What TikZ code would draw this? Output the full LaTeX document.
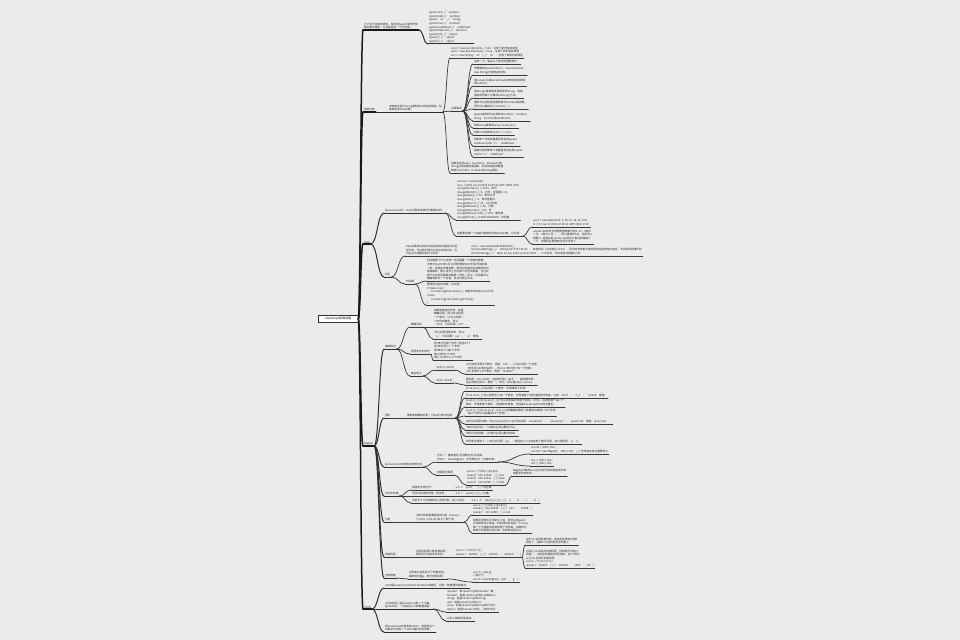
\documentclass[tikz,border=0pt]{standalone}
\usepackage{fontspec}
\setmainfont{Noto Sans CJK SC}
\usetikzlibrary{calc}
\newcommand\bsl{\textbackslash}
\newcommand\crt{\textasciicircum}
\newcommand\tld{\textasciitilde}
% topic text with its underline
\newcommand\tn[4][l3]{\node[tx] (#2) at (#3) {#4};\draw[#1] (#2.south west) -- (#2.south east);}
% curved branch from a parent anchor to the left end of a child's underline
\newcommand\lk[3][l3]{\draw[#1] let \p1=(#2), \p2=(#3.south west), \n1={0.5*(\x1+\x2)} in
  (\p1) .. controls ({\n1*1pt},\y1) and ({\n1*1pt},\y2) .. (\p2);}
\begin{document}
\begin{tikzpicture}[x=1bp,y=-1bp,
  tx/.style={anchor=south west, align=left, inner xsep=0.8pt, inner ysep=0.7pt,
    font=\fontsize{2.7}{3.6}\selectfont, text=black!85},
  l1/.style={line width=1.5pt, draw=black!90, line cap=round},
  l2/.style={line width=1.0pt, draw=black!82, line cap=round},
  l3/.style={line width=0.7pt, draw=black!78, line cap=round}]
\fill[black!8] (0,0) rectangle (960,640);
\useasboundingbox (0,0) rectangle (960,640);

\node[draw=black!80, line width=0.6pt, fill=white, minimum width=40pt, minimum height=7.5pt,
  inner sep=0.5pt, font=\fontsize{3}{3.6}\selectfont] (root) at (338,319) {JavaScript标准对象};

% ---------- typeof
\tn[l1]{A}{363,30}{为了区分对象的类型，我们用typeof操作符获\\取对象的类型，它总是返回一个字符串：}
\tn[l2]{A1}{428,44}{typeof 123; // 'number'\\typeof NaN; // 'number'\\typeof 'str'; // 'string'\\typeof true; // 'boolean'\\typeof undefined; // 'undefined'\\typeof Math.abs; // 'function'\\typeof null; // 'object'\\typeof []; // 'object'\\typeof \{\}; // 'object'}

% ---------- wrapper objects
\tn[l1]{B}{363,112}{包装对象}
\tn[l2]{B1}{388,112}{字符串也区分string类型和它的包装类型。包\\装类型用new创建：}
\tn{B1a}{450,58}{var n = new Number(123); // 123，生成了新的包装类型\\var b = new Boolean(true); // true，生成了新的包装类型\\var s = new String('str'); // 'str'，生成了新的包装类型}
\tn{B1b}{450,111}{注意事项}
\tn{Bn1}{473,64}{总结一下，有这么几条规则需要遵守：}
\tn{Bn2}{473,75}{不要使用new Number()、new Boolean()、\\new String()创建包装对象；}
\tn{Bn3}{473,86}{用parseInt()或parseFloat()来转换任意类型\\到number；}
\tn{Bn4}{473,98}{用String()来转换任意类型到string，或者\\直接调用某个对象的toString()方法；}
\tn{Bn5}{473,109}{通常不必把任意类型转换为boolean再判断，\\因为可以直接写if (myVar) \{...\}；}
\tn{Bn6}{473,121}{typeof操作符可以判断出number、boolean、\\string、function和undefined；}
\tn{Bn7}{473,128}{判断Array要使用Array.isArray(arr)；}
\tn{Bn8}{473,135}{判断null请使用myVar === null；}
\tn{Bn9}{473,146}{判断某个全局变量是否存在用typeof\\window.myVar === 'undefined'；}
\tn{Bn10}{473,157}{函数内部判断某个变量是否存在用typeof\\myVar === 'undefined'。}
\tn{B1c}{450,173}{如果没有写new，Number()、Boolean()和\\String()被当做普通函数，把任何类型的数据\\转换为number、boolean和string类型。}

% ---------- Date
\tn[l1]{C}{363,244}{Date}
\tn[l2]{C1}{384,213}{在JavaScript中，Date对象用来表示日期和时间。}
\tn{C1a}{456,220}{var now = new Date();\\now; // Wed Jun 24 2015 19:49:22 GMT+0800 (CST)\\now.getFullYear(); // 2015，年份\\now.getMonth(); // 5，月份，范围是0\tld 11\\now.getDate(); // 24，表示24号\\now.getDay(); // 3，表示星期三\\now.getHours(); // 19，24小时制\\now.getMinutes(); // 49，分钟\\now.getSeconds(); // 22，秒\\now.getMilliseconds(); // 875，毫秒数\\now.getTime(); // 1435146562875，时间戳}
\tn{C1b}{456,236}{如果要创建一个指定日期和时间的Date对象，可以用：}
\tn{C1b1}{532,227}{var d = new Date(2015, 5, 19, 20, 15, 30, 123);\\d; // Fri Jun 19 2015 20:15:30 GMT+0800 (CST)}
\tn{C1b2}{532,244}{JavaScript的月份范围用整数表示是0\tld 11，0表示\\一月，1表示二月……，所以要表示6月，我们传入\\的是5！这绝对是JavaScript的设计者当时脑抽了\\一下，但是现在要修复已经不可能了。}
\tn[l2]{C2}{384,277}{时区}
\tn{C2a}{405,256}{Date对象表示的时间总是按浏览器所在时区\\显示的，不过我们既可以显示本地时间，也\\可以显示调整后的UTC时间：}
\tn{C2a1}{470,256}{var d = new Date(1435146562875);\\d.toLocaleString(); // '2015/6/24 下午7:49:22'，本地时间（北京时区+8:00），显示的字符串与操作系统设定的格式有关，不同系统结果不同\\d.toUTCString(); // 'Wed, 24 Jun 2015 11:49:22 GMT'，UTC时间，与本地时间相差8小时}
\tn{C2b}{405,284}{时间戳}
\tn{C2b1}{426,281}{时间戳是个什么东西？时间戳是一个自增的整数，\\它表示从1970年1月1日零时整的GMT时区开始的那\\一刻，到现在的毫秒数。假设浏览器所在电脑的时间\\是准确的，那么世界上无论哪个时区的电脑，它们此\\刻产生的时间戳数字都是一样的，所以，时间戳可以\\精确地表示一个时刻，并且与时区无关。}
\tn{C2b2}{426,305}{要获取当前时间戳，可以用：\\if (Date.now) \{\\\hspace*{4pt}console.log(Date.now()); // 老版本IE没有now()方法\\\} else \{\\\hspace*{4pt}console.log(new Date().getTime());\\\}}

% ---------- RegExp
\tn[l1]{D}{363,446}{RegExp}
\tn[l2]{D1}{384,349}{基础知识}
\tn{D1a}{410,327}{精确匹配}
\tn{D1a1}{433,327}{如果直接给出字符，就是\\精确匹配。用\bsl d可以匹配\\一个数字，\bsl w可以匹配一\\个字母或数字，所以\\'00\bsl d'可以匹配'007'。}
\tn{D1a2}{433,339}{.可以匹配任意字符，所以：\\'js.'可以匹配'jsp'、'js!'等等。}
\tn{D1b}{410,354}{匹配变长的字符}
\tn{D1b1}{433,360}{用*表示任意个字符（包括0个）\\用+表示至少一个字符\\用?表示0个或1个字符\\用\{n\}表示n个字符\\用\{n,m\}表示n-m个字符}
\tn{D1c}{410,376}{复杂例子}
\tn{D1c1}{435,370}{\bsl d\{3\}\bsl s+\bsl d\{3,8\}}
\tn{D1c1a}{465,374}{\bsl d\{3\}表示匹配3个数字，例如'010'；\bsl s可以匹配一个空格\\（也包括Tab等空白符），所以\bsl s+表示至少有一个空格；\\\bsl d\{3,8\}表示3-8个数字，例如'1234567'。}
\tn{D1c2}{435,383}{\bsl d\{3\}\bsl -\bsl d\{3,8\}}
\tn{D1c2a}{465,385}{要匹配'010-12345'这样的号码，由于'-'是特殊字符，\\在正则表达式中，要用'\bsl'转义，所以是\bsl d\{3\}\bsl -\bsl d\{3,8\}。}

\tn[l2]{D2}{384,418}{进阶}
\tn{D2a}{406,418}{要做更精确地匹配，可以用[]表示范围：}
\tn{D2c1}{465,391}{[0-9a-zA-Z\bsl\_]可以匹配一个数字、字母或者下划线；}
\tn{D2c2}{465,398}{[0-9a-zA-Z\bsl\_]+可以匹配至少由一个数字、字母或者下划线组成的字符串，比如'a100'，'0\_Z'，'js2015'等等；}
\tn{D2c3}{465,407}{[a-zA-Z\bsl\_\bsl\$][0-9a-zA-Z\bsl\_\bsl\$]*可以匹配由字母或下划线、\$开头，后接任意个由一个\\数字、字母或者下划线、\$组成的字符串，也就是JavaScript允许的变量名；}
\tn{D2c4}{465,416}{[a-zA-Z\bsl\_\bsl\$][0-9a-zA-Z\bsl\_\bsl\$]\{0, 19\}更精确地限制了变量的长度是1-20个字符\\（前1个字符+后面最多19个字符）。}
\tn{D2c5}{465,424}{A|B可以匹配A或B，所以(J|j)ava(S|s)cript可以匹配'JavaScript'、'Javascript'、'javaScript'或者'javascript'。}
\tn{D2c6}{465,430}{\crt 表示行的开头，\crt\bsl d表示必须以数字开头。}
\tn{D2c7}{465,436}{\$表示行的结束，\bsl d\$表示必须以数字结束。}
\tn{D2c8}{465,444}{你可能注意到了，js也可以匹配'jsp'，但是加上\crt js\$就变成了整行匹配，就只能匹配'js'了。}

\tn[l2]{D3}{384,467}{在JavaScript中使用正则表达式}
\tn{D3a}{436,462}{方式一：直接通过/正则表达式/写出来；\\方式二：new RegExp('正则表达式')创建对象。}
\tn{D3a1}{530,454}{var re1 = /ABC\bsl -001/;\\var re2 = new RegExp('ABC\bsl\bsl -001'); // 字符串本身也需要转义}
\tn{D3a2}{530,466}{re1; // /ABC\bsl -001/\\re2; // /ABC\bsl -001/}
\tn{D3b}{436,475}{判断是否匹配}
\tn{D3b1}{466,485}{var re = /\crt\bsl d\{3\}\bsl -\bsl d\{3,8\}\$/;\\re.test('010-12345'); // true\\re.test('010-1234x'); // false\\re.test('010 12345'); // false}
\tn{D3b1a}{512,476}{RegExp对象的test()方法用于测试给定的字符\\串是否符合条件。}

\tn[l2]{D4}{384,496}{切分字符串}
\tn{D4a}{411,490}{用固定字符切分：}
\tn{D4a1}{452,490}{'a b\ \ \ c'.split(' '); // 含空串}
\tn{D4b}{411,496}{无法识别连续空格，用正则：}
\tn{D4b1}{452,496}{'a b\ \ \ c'.split(/\bsl s+/); // 正确}
\tn{D4c}{411,503}{无论多少个空格都可以正常分割。加入,试试：}
\tn{D4c1}{468,503}{'a,b, c\ \ d'.split(/[\bsl s\bsl ,]+/); // ['a', 'b', 'c', 'd']}

\tn[l2]{D5}{384,522}{分组}
\tn{D5a}{415,522}{()表示的就是要提取的分组（Group），\\\crt(\bsl d\{3\})-(\bsl d\{3,8\})\$定义了两个组}
\tn{D5a1}{472,515}{var re = /\crt(\bsl d\{3\})-(\bsl d\{3,8\})\$/;\\re.exec('010-12345'); // ['010', '12345']\\re.exec('010 12345'); // null}
\tn{D5a2}{472,533}{如果正则表达式中定义了组，就可以用exec()\\方法提取出子串来。匹配成功后返回一个Array，\\第一个元素是匹配到的整个字符串，后面的元\\素表示匹配成功的子串，失败时返回null。}

\tn[l2]{D6}{384,557}{贪婪匹配}
\tn{D6a}{415,557}{正则匹配默认是贪婪匹配，\\即匹配尽可能多的字符。}
\tn{D6a1}{455,557}{var re = /\crt(\bsl d+)(0*)\$/;\\re.exec('102300'); // ['102300', '102300', '']}
\tn{D6a1a}{525,545}{由于\bsl d+采用贪婪匹配，直接把后面的0全部\\匹配了，结果0*只能匹配空字符串了。}
\tn{D6a1b}{525,568}{必须让\bsl d+采用非贪婪匹配（也就是尽可能少\\匹配），才能把后面的0匹配出来，加个?就可\\以让\bsl d+采用非贪婪匹配：\\var re = /\crt(\bsl d+?)(0*)\$/;\\re.exec('102300'); // ['102300', '1023', '00']}

\tn[l2]{D7}{384,578}{全局搜索}
\tn{D7a}{408,579}{正则表达式还有几个特殊标志，\\最常用的是g，表示全局匹配：}
\tn{D7a1}{472,582}{var r1 = /test/g;\\// 等价于:\\var r2 = new RegExp('test', 'g');}

% ---------- JSON
\tn[l1]{E}{363,609}{JSON}
\tn[l2]{E1}{384,588}{JSON是JavaScript Object Notation的缩写，它是一种数据交换格式。}
\tn[l2]{E2}{384,609}{JSON实际上是JavaScript的一个子集。\\在JSON中，一共就这么几种数据类型：}
\tn{E2a}{446,612}{number：和JavaScript的number一致；\\boolean：就是JavaScript的true或false；\\string：就是JavaScript的string；\\null：就是JavaScript的null；\\array：就是JavaScript的Array表示方式；\\object：就是JavaScript的\{ ... \}表示方式。}
\tn{E2b}{446,621}{以及上面的任意组合。}
\tn[l2]{E3}{384,632}{把JavaScript对象变成JSON，就是把这个\\对象序列化成一个JSON格式的字符串。}

% ---------- branches
\foreach \c in {A,B,C,D,E} {\lk[l1]{root.east}{\c}}
\lk[l2]{A.south east}{A1}
\lk[l2]{B.south east}{B1}
\foreach \c in {B1a,B1b,B1c} {\lk{B1.south east}{\c}}
\foreach \c in {Bn1,Bn2,Bn3,Bn4,Bn5,Bn6,Bn7,Bn8,Bn9,Bn10} {\lk{B1b.south east}{\c}}
\foreach \c in {C1,C2} {\lk[l2]{C.south east}{\c}}
\foreach \c in {C1a,C1b} {\lk{C1.south east}{\c}}
\foreach \c in {C1b1,C1b2} {\lk{C1b.south east}{\c}}
\lk{C2.south east}{C2a}
\lk{C2.south east}{C2b}
\lk{C2a.south east}{C2a1}
\foreach \c in {C2b1,C2b2} {\lk{C2b.south east}{\c}}
\foreach \c in {D1,D2,D3,D4,D5,D6,D7} {\lk[l2]{D.south east}{\c}}
\foreach \c in {D1a,D1b,D1c} {\lk{D1.south east}{\c}}
\foreach \c in {D1a1,D1a2} {\lk{D1a.south east}{\c}}
\lk{D1b.south east}{D1b1}
\foreach \c in {D1c1,D1c2} {\lk{D1c.south east}{\c}}
\lk{D1c1.south east}{D1c1a}
\lk{D1c2.south east}{D1c2a}
\lk{D2.south east}{D2a}
\foreach \c in {D2c1,D2c2,D2c3,D2c4,D2c5,D2c6,D2c7,D2c8} {\lk{D2a.south east}{\c}}
\foreach \c in {D3a,D3b} {\lk{D3.south east}{\c}}
\foreach \c in {D3a1,D3a2} {\lk{D3a.south east}{\c}}
\lk{D3b.south east}{D3b1}
\lk{D3b1.south east}{D3b1a}
\foreach \c in {D4a,D4b,D4c} {\lk{D4.south east}{\c}}
\lk{D4a.south east}{D4a1}
\lk{D4b.south east}{D4b1}
\lk{D4c.south east}{D4c1}
\lk{D5.south east}{D5a}
\foreach \c in {D5a1,D5a2} {\lk{D5a.south east}{\c}}
\lk{D6.south east}{D6a}
\lk{D6a.south east}{D6a1}
\foreach \c in {D6a1a,D6a1b} {\lk{D6a1.south east}{\c}}
\lk{D7.south east}{D7a}
\lk{D7a.south east}{D7a1}
\foreach \c in {E1,E2,E3} {\lk[l2]{E.south east}{\c}}
\foreach \c in {E2a,E2b} {\lk{E2.south east}{\c}}
\end{tikzpicture}
\end{document}
